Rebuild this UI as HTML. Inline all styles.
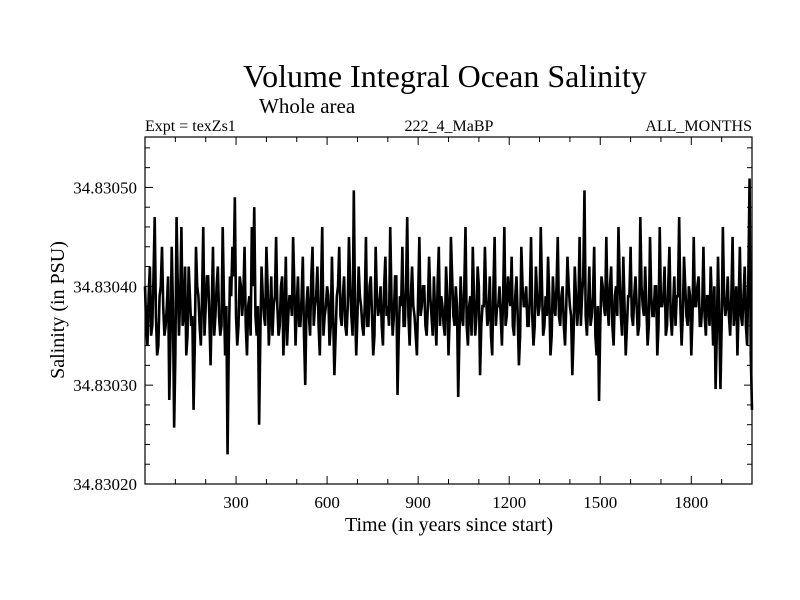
<!DOCTYPE html>
<html><head><meta charset="utf-8"><style>
body{margin:0;background:#fff}
svg{display:block;font-family:"Liberation Serif",serif}
</style></head><body>
<svg id="chart" width="800" height="600" viewBox="0 0 800 600">
<rect width="800" height="600" fill="#fff"/>
<text x="445" y="87" font-size="32" text-anchor="middle">Volume Integral Ocean Salinity</text>
<text x="259" y="113" font-size="21">Whole area</text>
<text x="145" y="131" font-size="16">Expt = texZs1</text>
<text x="449" y="131" font-size="16" text-anchor="middle">222_4_MaBP</text>
<text x="752" y="131" font-size="16" text-anchor="end">ALL_MONTHS</text>
<text x="449" y="531" font-size="20" text-anchor="middle">Time (in years since start)</text>
<text x="0" y="0" font-size="20" text-anchor="middle" transform="translate(64,310) rotate(-90)">Salinity (in PSU)</text>
<g id="axes"></g>
<path id="series" fill="none" stroke="#000" stroke-width="2.6" stroke-linejoin="miter"/>
<rect x="145" y="137" width="607" height="347" fill="none" stroke="#000" stroke-width="1.2"/>
</svg>
<script>
// values in units of 1e-5 PSU above 34.83000; main samples every 8 years (year 0,8,...)
const years_step = 8;
const values = [
40,34,42,36,47,33,39,44,35,38,
28.5,44,25.7,47,35,46,37,33,42,36,
27.5,44,39,34,46,38,41,32,44,37,
42,35,46,33,23,41,44,49,34,41,
37,44,33,39,46,48,35,26,42,37,
44,34,41,38,45,35,40,33,43,37,
39,45,34,41,36,43,30,40,35,44,
38,42,33,46,37,40,34,43,31,39,
44,36,41,35,45,37,49.7,33,42,38,
35,45,36,41,33,44,37,40,34,43,
38,46,35,41,29,39,44,36,47,34,
42,37,33,45,38,40,35,43,37,41,
34,44,39,36,42,33,45,37,40,28.8,
41,36,46,34,39,44,35,42,31,38,
44,36,41,33,45,38,40,34,46,37,
39,43,35,41,32,44,38,40,36,45,
34,42,37,46,35,39,43,33,41,37,
45,36,40,34,43,38,31,42,36,45,
39,49.7,35,42,37,44,33,28.4,41,38,
45,36,42,34,40,46,37,43,33,39,
44,36,41,35,47,38,42,34,45,37,
40,33,46,38,42,36,44,35,41,39,
47,34,43,37,40,33,45,38,41,36,
44,35,39,42,34,29.6,43,29.6,46,37,
41,35,45,38,33,44,36,42,34,50.9,
27.5];
// intermediate samples at year 4,12,20,... (between main samples)
const valuesMid = [
36,39,35,41,37,34,40,38,36,41,
35,38,33,40,39,36,42,35,39,37,
34,40,36,39,35,41,37,38,35,40,
37,36,39,38,34,39,41,37,36,40,
39,36,38,35,40,37,38,35,39,36,
40,37,35,39,38,36,41,37,34,39,
37,40,38,36,39,35,38,37,41,36,
39,36,40,35,38,39,36,37,35,40,
37,39,36,38,40,35,38,37,39,36,
38,36,40,37,35,39,38,36,40,37,
36,39,37,41,35,38,36,40,37,39,
38,35,39,37,40,36,38,39,35,37,
40,36,38,35,39,37,41,36,38,35,
37,40,36,38,35,39,37,40,36,38,
39,37,35,40,36,38,37,39,36,41,
38,36,39,37,35,40,38,36,39,37,
36,39,38,40,36,37,39,35,38,40,
37,39,36,38,40,37,35,39,38,36,
41,37,38,36,39,35,38,36,40,37,
38,40,36,39,37,41,35,38,36,39,
37,39,38,36,40,37,38,36,39,37,
40,36,38,39,35,40,37,38,36,39,
38,37,40,36,39,37,38,40,36,38,
37,39,36,38,40,35,37,36,39,38,
37,39,36,40,38,37,39,36,41,33];
const xTicks = [300,600,900,1200,1500,1800];
const yTicks = [34.8302,34.8303,34.8304,34.8305];
const yTickLabels = ["34.83020","34.83030","34.83040","34.83050"];

const L=145,R=752,T=137,B=484;
const X0=0,X1=2000,Y0=34.8302,Y1=34.830551;
const xs=v=>L+(v-X0)/(X1-X0)*(R-L);
const ys=v=>B-(v-Y0)/(Y1-Y0)*(B-T);
const NS="http://www.w3.org/2000/svg";
const ax=document.getElementById('axes');
function line(x1,y1,x2,y2,name){
  const l=document.createElementNS(NS,'line');
  l.setAttribute('x1',x1);l.setAttribute('y1',y1);l.setAttribute('x2',x2);l.setAttribute('y2',y2);
  l.setAttribute('stroke','#000');l.setAttribute('stroke-width','1');
  
  
  ax.appendChild(l);
}
function text(x,y,s,anchor,name){
  const t=document.createElementNS(NS,'text');
  t.setAttribute('x',x);t.setAttribute('y',y);t.setAttribute('font-size','17');t.setAttribute('text-anchor',anchor);
  t.textContent=s;
  
  
  ax.appendChild(t);
}
for(let yr=100;yr<X1;yr+=100){
  const x=xs(yr),major=yr%300===0,len=major?8:5;
  line(x,B,x,B-len,'x-tick');
  line(x,T,x,T+len,'x-tick-top');
}
xTicks.forEach(v=>text(xs(v),508,String(v),'middle','x-tick-label'));
for(let k=0;k<=17;k++){
  const v=Y0+k*0.00002;
  if(v>Y1)break;
  const y=ys(v),major=k%5===0,len=major?8:5;
  line(L,y,L+len,y,'y-tick');
  line(R,y,R-len,y,'y-tick-right');
}
yTicks.forEach((v,i)=>text(137,ys(v)+6,yTickLabels[i],'end','y-tick-label'));
const pts=[];
values.forEach((v,i)=>{
  pts.push([i*years_step,v]);
  if(i<valuesMid.length) pts.push([i*years_step+years_step/2,valuesMid[i]]);
});
let d='';
pts.forEach((p,i)=>{
  const x=xs(p[0]), y=ys(34.83+p[1]*1e-5);
  d+=(i?'L':'M')+x.toFixed(2)+' '+y.toFixed(2);
});
document.getElementById('series').setAttribute('d',d);
</script>
</body></html>
